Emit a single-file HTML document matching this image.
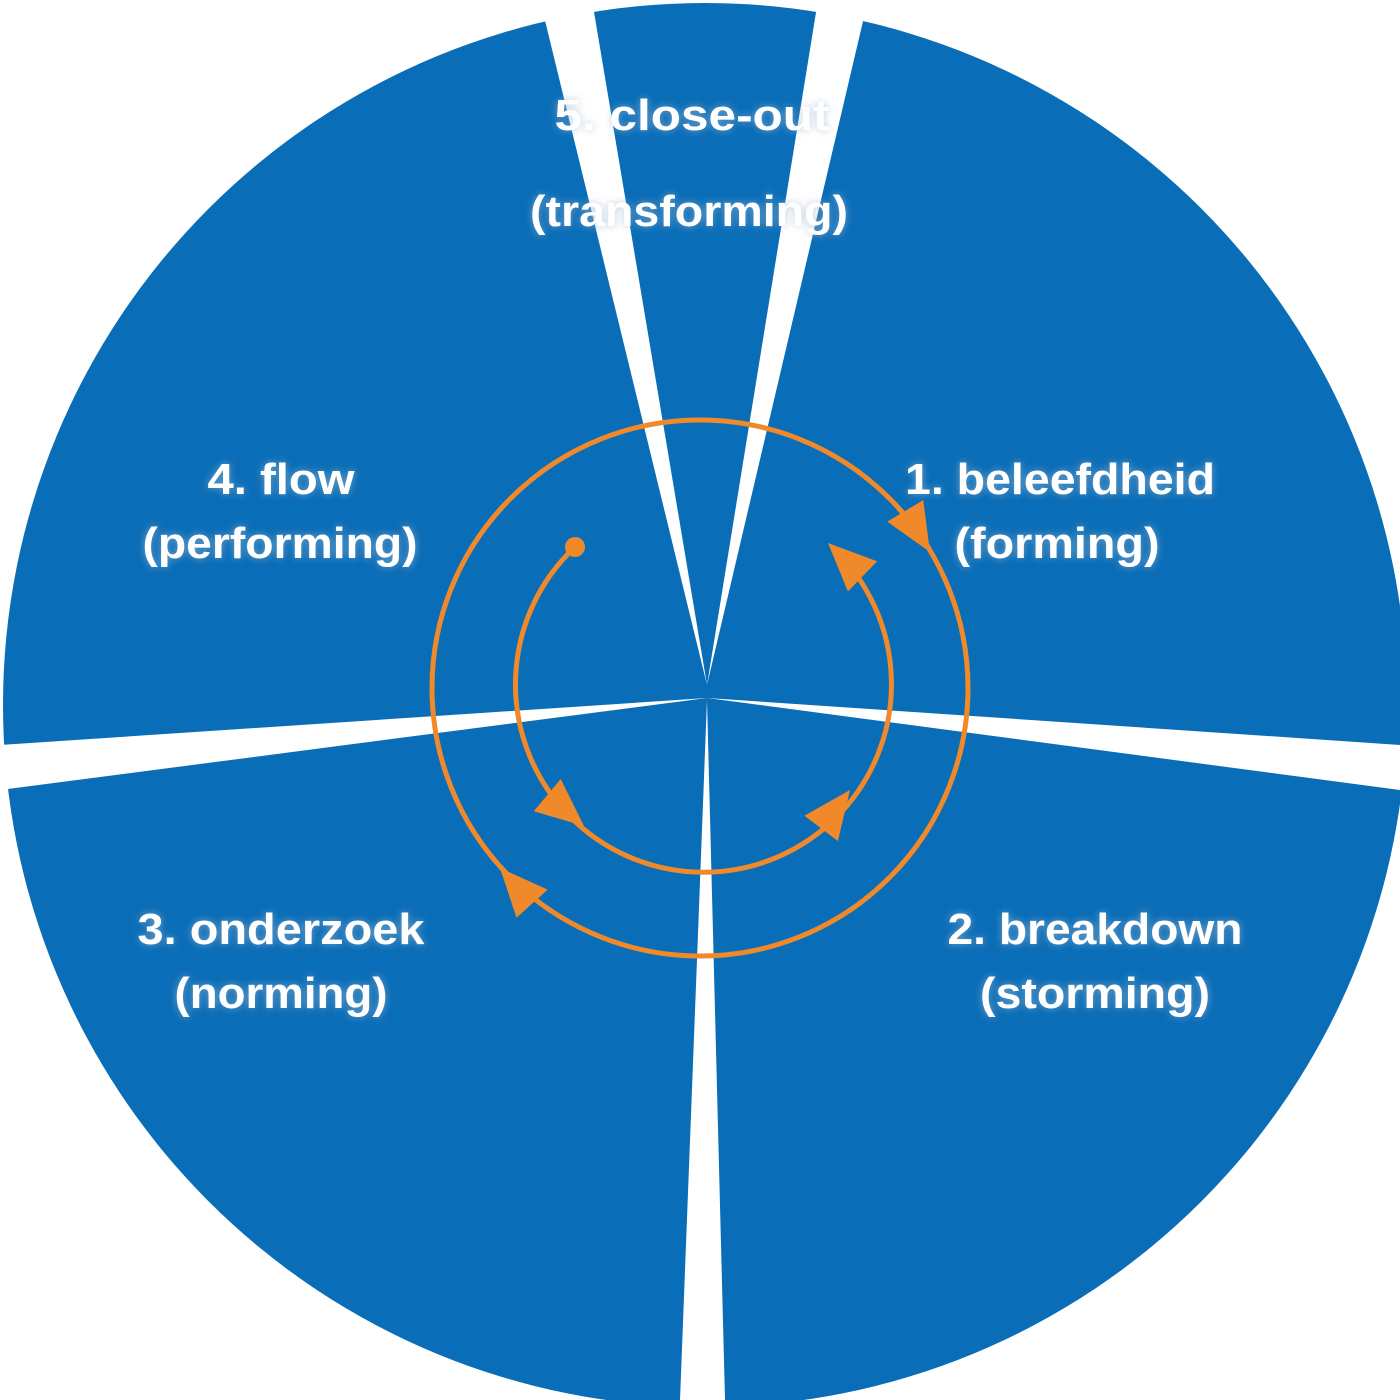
<!DOCTYPE html>
<html><head><style>
html,body{margin:0;padding:0;background:#fff;}
svg{display:block}
text{font-family:"Liberation Sans",sans-serif;font-weight:bold;font-size:44px;fill:#fff;text-anchor:middle;}
</style></head><body>
<svg width="1400" height="1400" viewBox="0 0 1400 1400" xmlns="http://www.w3.org/2000/svg">
<defs>
<filter id="g" x="-20%" y="-50%" width="140%" height="200%">
<feGaussianBlur in="SourceAlpha" stdDeviation="4" result="b"/>
<feFlood flood-color="#9fb8d0" flood-opacity="0.7"/>
<feComposite in2="b" operator="in" result="s"/>
<feMerge><feMergeNode in="s"/><feMergeNode in="SourceGraphic"/></feMerge>
</filter>
</defs>
<circle cx="705" cy="705" r="702" fill="#0A6DB7"/>
<g fill="#fff">
<polygon points="540,0 592,0 707,685"/>
<polygon points="818,0 868,0 707,685"/>
<polygon points="0,745 0,790 707,698"/>
<polygon points="1400,745 1400,790 707,698"/>
<polygon points="680,1400 725,1400 707,700"/>
</g>
<g fill="none" stroke="#F0892A" stroke-width="5">
<circle cx="700" cy="688" r="268"/>
<path d="M575,547 A188,188 0 1 0 833,548"/>
</g>
<g fill="#F0892A">
<circle cx="575" cy="547" r="10"/>
<polygon points="0,0 -48,-21 -48,21" transform="translate(930,552) rotate(59)"/>
<polygon points="0,0 -48,-21 -48,21" transform="translate(500,868) rotate(-132)"/>
<polygon points="0,0 -48,-21 -48,21" transform="translate(584,826) rotate(40)"/>
<polygon points="0,0 -48,-21 -48,21" transform="translate(850,790) rotate(-53)"/>
<polygon points="0,0 -48,-21 -48,21" transform="translate(828,543) rotate(-136)"/>
</g>
<g filter="url(#g)">
<text x="692" y="130" textLength="275" lengthAdjust="spacingAndGlyphs">5. close-out</text>
<text x="689" y="226" textLength="318" lengthAdjust="spacingAndGlyphs">(transforming)</text>
<text x="1060" y="494" textLength="310" lengthAdjust="spacingAndGlyphs">1. beleefdheid</text>
<text x="1057" y="558" textLength="205" lengthAdjust="spacingAndGlyphs">(forming)</text>
<text x="281" y="494" textLength="147" lengthAdjust="spacingAndGlyphs">4. flow</text>
<text x="280" y="558" textLength="275" lengthAdjust="spacingAndGlyphs">(performing)</text>
<text x="281" y="944" textLength="287" lengthAdjust="spacingAndGlyphs">3. onderzoek</text>
<text x="281" y="1008" textLength="213" lengthAdjust="spacingAndGlyphs">(norming)</text>
<text x="1095" y="944" textLength="295" lengthAdjust="spacingAndGlyphs">2. breakdown</text>
<text x="1095" y="1008" textLength="230" lengthAdjust="spacingAndGlyphs">(storming)</text>
</g>
</svg>
</body></html>
